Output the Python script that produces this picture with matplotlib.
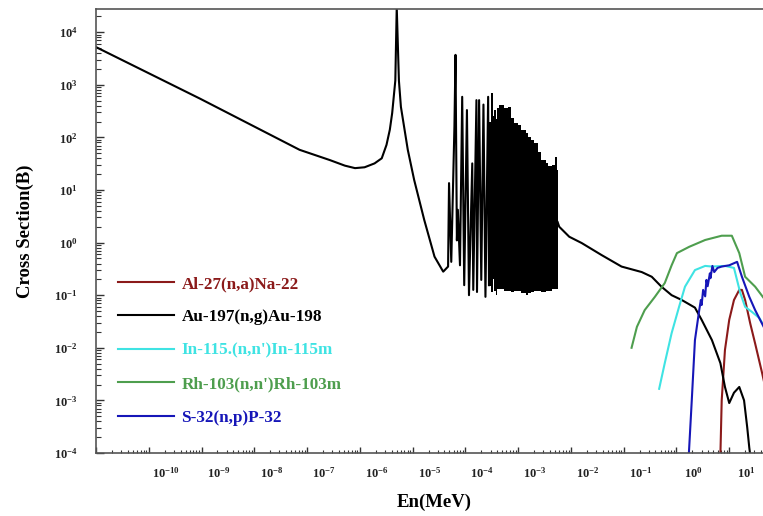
import matplotlib
matplotlib.use("Agg")
import matplotlib.pyplot as plt
import matplotlib.transforms as mtransforms
from matplotlib.ticker import LogLocator, FuncFormatter
import numpy as np

plt.rcParams['font.family'] = 'Liberation Serif'
plt.rcParams['font.weight'] = 'bold'
plt.rcParams['mathtext.fontset'] = 'custom'
plt.rcParams['mathtext.rm'] = 'Liberation Serif:bold'
plt.rcParams['mathtext.default'] = 'rm'

# Au-197(n,g): thermal 1/v region, 4.9 eV resonance and first resolved resonances
au_E = [1e-11, 9.5e-10, 7.2e-8, 2.7e-7, 5.2e-7, 8.1e-7, 1.23e-6, 1.9e-6, 2.6e-6,
        3.2e-6, 3.7e-6, 4.1e-6, 4.7e-6, 5.0e-6, 5.5e-6, 6.0e-6, 8.1e-6, 1.07e-5,
        1.66e-5, 2.6e-5, 3.8e-5,
        4.7e-5, 4.9e-5, 5.4e-5, 6.2e-5, 6.5e-5, 6.9e-5, 7.2e-5, 7.9e-5, 8.7e-5,
        9.5e-5, 1.07e-4, 1.17e-4, 1.35e-4, 1.41e-4, 1.62e-4, 1.66e-4, 1.82e-4,
        2.0e-4, 2.2e-4, 2.4e-4, 2.7e-4, 2.8e-4]
au_xs = [5.2e3, 5.4e2, 58, 37, 29, 26, 27, 32, 40,
         72, 1.4e2, 2.9e2, 1.2e3, 3.0e4, 1.2e3, 3.8e2, 58, 15.5,
         2.7, 0.54, 0.28,
         0.35, 13.5, 0.43, 1.6e2, 3.7e3, 1.1, 4.2, 0.37, 5.9e2,
         0.155, 3.3e2, 0.10, 32, 0.126, 5.1e2, 0.115, 5.1e2,
         0.195, 4.2e2, 0.093, 5.9e2, 0.155]

# dense part of the resolved resonance region (upper / lower envelope)
band_E = [2.8e-4, 3.1e-4, 3.3e-4, 3.5e-4, 3.8e-4, 4.0e-4, 4.4e-4, 5.5e-4, 6.5e-4,
          7.4e-4, 8.5e-4, 1.0e-3, 1.15e-3, 1.38e-3, 1.55e-3, 1.78e-3, 2.04e-3,
          2.4e-3, 2.75e-3, 3.3e-3, 3.7e-3, 4.3e-3, 4.9e-3, 5.4e-3, 5.6e-3]
band_hi = [2.0e2, 6.9e2, 2.5e2, 3.3e2, 2.2e2, 3.6e2, 4.2e2, 3.6e2, 3.8e2,
           2.3e2, 1.9e2, 1.7e2, 1.4e2, 1.2e2, 1.0e2, 89, 78,
           52, 37, 32, 28, 30, 43, 24, 22]
band_lo = [0.15, 0.115, 0.2, 0.12, 0.1, 0.13, 0.13, 0.12, 0.12,
           0.115, 0.12, 0.12, 0.11, 0.10, 0.11, 0.115, 0.12,
           0.12, 0.115, 0.12, 0.12, 0.13, 0.13, 0.13, 0.13]

# unresolved / fast region
au_tail_E = [5.6e-3, 6.0e-3, 9.3e-3, 1.6e-2, 3.8e-2, 9.1e-2, 0.22, 0.34, 0.52, 0.81,
             1.26, 2.24, 3.0, 4.7, 6.8, 8.3, 10.0, 12.3, 15.5, 19.1, 21.9, 24, 25]
au_tail_xs = [2.45, 2.0, 1.29, 0.98, 0.58, 0.35, 0.275, 0.224, 0.145, 0.10,
              0.081, 0.058, 0.034, 0.014, 5.1e-3, 1.8e-3, 8.9e-4, 1.4e-3, 1.8e-3,
              1.0e-3, 3.1e-4, 1.26e-4, 9.1e-5]

al_E = [6.8, 7.2, 8.3, 10.0, 12.3, 15.5, 17.4, 20, 25, 31, 42, 48, 65]
al_xs = [9.1e-5, 1.0e-3, 9.1e-3, 3.4e-2, 8.1e-2, 0.126, 0.126, 8.1e-2, 2.9e-2,
         1.2e-2, 3.3e-3, 1.8e-3, 6.3e-4]

in_E = [0.47, 0.60, 0.81, 1.12, 1.45, 2.24, 3.5, 4.7, 8.3, 12.3, 16.2, 20, 27, 37, 48, 70]
in_xs = [1.66e-3, 5.1e-3, 1.9e-2, 6.0e-2, 0.145, 0.30, 0.36, 0.35, 0.36, 0.33,
         0.11, 0.060, 0.048, 0.037, 0.024, 0.015]

rh_E = [0.141, 0.178, 0.25, 0.39, 0.60, 0.81, 1.02, 1.74, 3.5, 7.2, 11.2, 15.5,
        20, 31, 48, 81]
rh_xs = [1.0e-2, 2.5e-2, 5.2e-2, 9.3e-2, 0.17, 0.37, 0.63, 0.83, 1.12, 1.35, 1.35,
         0.63, 0.224, 0.145, 0.081, 0.042]

s_E = [1.70, 1.95, 2.24, 2.7, 2.9, 3.0, 3.2, 3.5, 3.7, 3.9, 4.3, 4.4, 4.8, 5.2,
       6.0, 7.2, 10, 14.1, 17.4, 24, 31, 48, 70]
s_xs = [8e-5, 1.0e-3, 1.4e-2, 5.2e-2, 8.1e-2, 6.5e-2, 0.126, 0.095, 0.195, 0.148,
        0.26, 0.21, 0.36, 0.275, 0.33, 0.35, 0.37, 0.43, 0.224, 0.093, 0.052,
        0.022, 0.01]

labels = ["Al-27(n,a)Na-22", "Au-197(n,g)Au-198", "In-115.(n,n')In-115m",
          "Rh-103(n,n')Rh-103m", "S-32(n,p)P-32"]
colors = ["#8b1a1a", "#000000", "#3fe3e3", "#4e9e4e", "#1616b8"]

fig = plt.figure(figsize=(7.63, 5.16), dpi=100)
ax = fig.add_axes([96/763, 63/516, 686/763, 444/516])

lw = 1.5
ax.plot(al_E, al_xs, color=colors[0], lw=lw, label=labels[0])
ax.plot(au_E, au_xs, color=colors[1], lw=lw, label=labels[1])
ax.fill_between(band_E, band_lo, band_hi, step='post', color='black', lw=0)
ax.plot(au_tail_E, au_tail_xs, color=colors[1], lw=lw)
ax.plot(in_E, in_xs, color=colors[2], lw=lw, label=labels[2])
ax.plot(rh_E, rh_xs, color=colors[3], lw=lw, label=labels[3])
ax.plot(s_E, s_xs, color=colors[4], lw=lw, label=labels[4])

ax.set_xscale('log')
ax.set_yscale('log')
ax.set_xlim(1e-11, 1e2)
ax.set_ylim(1e-4, 10**4.44)

def dec_label(lo, hi):
    def fmt(v, pos):
        k = int(round(np.log10(v)))
        if k < lo or k > hi:
            return ''
        return r'$10^{%d}$' % k
    return FuncFormatter(fmt)

ax.xaxis.set_major_locator(LogLocator(base=10, numticks=30))
ax.xaxis.set_minor_locator(LogLocator(base=10, subs=np.arange(2, 10), numticks=300))
ax.yaxis.set_major_locator(LogLocator(base=10, numticks=30))
ax.yaxis.set_minor_locator(LogLocator(base=10, subs=np.arange(2, 10), numticks=300))
ax.xaxis.set_major_formatter(dec_label(-10, 1))
ax.yaxis.set_major_formatter(dec_label(-4, 4))

ax.tick_params(axis='x', which='major', direction='in', length=4.5, width=1,
               labelsize=9, pad=9, colors='#333333', labelcolor='#222222')
ax.tick_params(axis='x', which='minor', direction='in', length=2.5, width=0.8,
               colors='#333333')
ax.tick_params(axis='y', which='major', direction='in', length=6, width=1,
               labelsize=9, pad=13, colors='#333333', labelcolor='#222222')
ax.tick_params(axis='y', which='minor', direction='in', length=3.5, width=0.8,
               colors='#333333')
ax.tick_params(top=False, right=False)

for side in ['left', 'bottom', 'top', 'right']:
    ax.spines[side].set_color('#555555')
    ax.spines[side].set_linewidth(1.2)

ax.set_xlabel('En(MeV)', fontsize=13.5, fontweight='bold')
ax.xaxis.set_label_coords(0.493, -0.092)
ax.set_ylabel('Cross Section(B)', fontsize=13.5, fontweight='bold')
ax.yaxis.set_label_coords(-0.090, 0.5)

leg = ax.legend(loc='upper left', bbox_to_anchor=(118/763, 1 - 276/516),
                bbox_transform=fig.transFigure, frameon=False, fontsize=12.3,
                handlelength=3.3, handletextpad=0.42, labelspacing=1.02,
                borderpad=0, borderaxespad=0, labelcolor='linecolor')
for t in leg.get_texts():
    t.set_fontweight('bold')

# x tick labels sit slightly right of their ticks
fig.canvas.draw()
shift = mtransforms.ScaledTranslation(17/100, 0, fig.dpi_scale_trans)
for lab in ax.get_xticklabels():
    lab.set_transform(lab.get_transform() + shift)

fig.savefig('out.png', dpi=100)
